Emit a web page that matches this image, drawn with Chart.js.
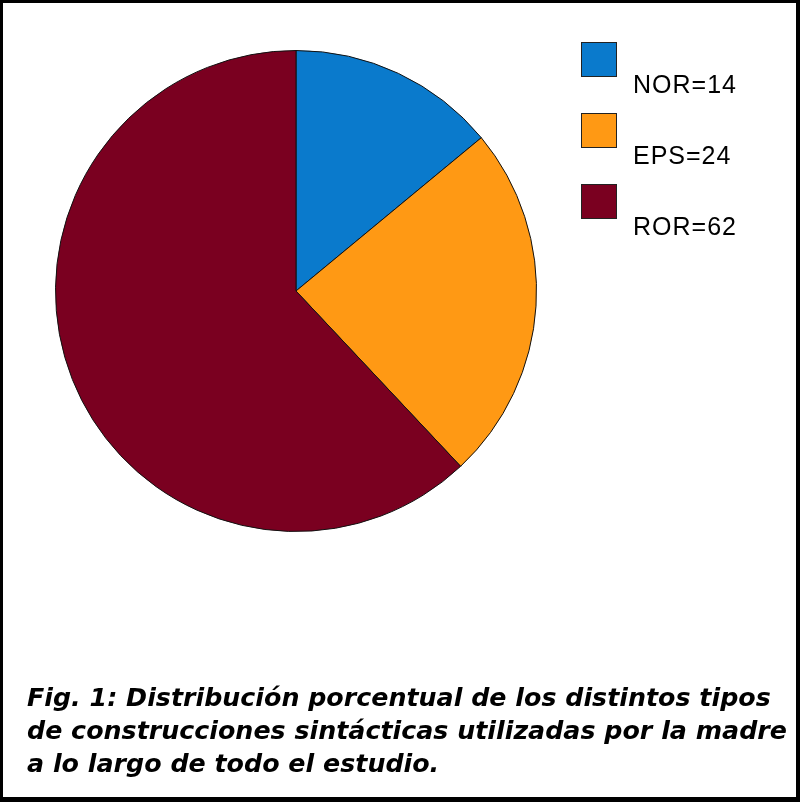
<!DOCTYPE html>
<html>
<head>
<meta charset="utf-8">
<script src="https://cdn.jsdelivr.net/npm/chart.js@4/dist/chart.umd.min.js"></script>
<style>
  html, body { margin: 0; padding: 0; background: #fff; }
  #frame {
    position: absolute; left: 0; top: 0; width: 800px; height: 802px;
    box-sizing: border-box; background: #fff;
    border-left: 3px solid #000; border-top: 3px solid #000;
    border-right: 4px solid #000; border-bottom: 5px solid #000;
  }
  #chart { position: absolute; left: 0; top: 0; }
  .cap {
    position: absolute; left: 27px; white-space: nowrap;
    font-family: "DejaVu Sans", Verdana, sans-serif;
    font-weight: bold; font-style: italic; font-size: 24px;
    color: #000; transform-origin: 0 0; line-height: 1;
  }
</style>
</head>
<body>
<div id="frame"></div>
<canvas id="chart" width="800" height="802"></canvas>
<div id="caption"></div>
<script>
const labels = ['NOR=14', 'EPS=24', 'ROR=62'];
const values = [14, 24, 62];
const colors = ['#0a7acc', '#ff9914', '#7a0020'];
const captionLines = [
  'Fig. 1: Distribución porcentual de los distintos tipos',
  'de construcciones sintácticas utilizadas por la madre',
  'a lo largo de todo el estudio.'
];

// legend boxes with the label sitting below-right of each box
const sideLegend = {
  id: 'sideLegend',
  afterDraw(chart) {
    const ctx = chart.ctx;
    const ds = chart.data.datasets[0];
    ctx.save();
    ctx.font = '25px "Liberation Sans", Arial, sans-serif';
    ctx.textBaseline = 'alphabetic';
    chart.data.labels.forEach((lab, i) => {
      const y = 42 + i * 71;
      ctx.fillStyle = ds.backgroundColor[i];
      ctx.fillRect(581, y, 36, 35);
      ctx.strokeStyle = '#222';
      ctx.lineWidth = 1;
      ctx.strokeRect(581.5, y + 0.5, 35, 34);
      ctx.fillStyle = '#000';
      ctx.letterSpacing = '1px';
      ctx.fillText(lab, 633, y + 51);
    });
    ctx.restore();
  }
};

new Chart(document.getElementById('chart'), {
  type: 'pie',
  data: {
    labels: labels,
    datasets: [{
      data: values,
      backgroundColor: colors,
      borderColor: '#111',
      borderWidth: 1
    }]
  },
  options: {
    responsive: false,
    animation: false,
    layout: { padding: { left: 55, top: 50, right: 263, bottom: 270 } },
    plugins: { legend: { display: false }, tooltip: { enabled: false } }
  },
  plugins: [sideLegend]
});

const cap = document.getElementById('caption');
const tops = [686, 719, 752];
captionLines.forEach((t, i) => {
  const d = document.createElement('div');
  d.className = 'cap';
  d.textContent = t;
  d.style.top = tops[i] + 'px';
  cap.appendChild(d);
});
// fit line 2 to its width in the picture, same squeeze for all lines
const w = cap.children[1].getBoundingClientRect().width;
const sx = 760 / w;
Array.from(cap.children).forEach(d => { d.style.transform = `scaleX(${sx})`; });
</script>
</body>
</html>
